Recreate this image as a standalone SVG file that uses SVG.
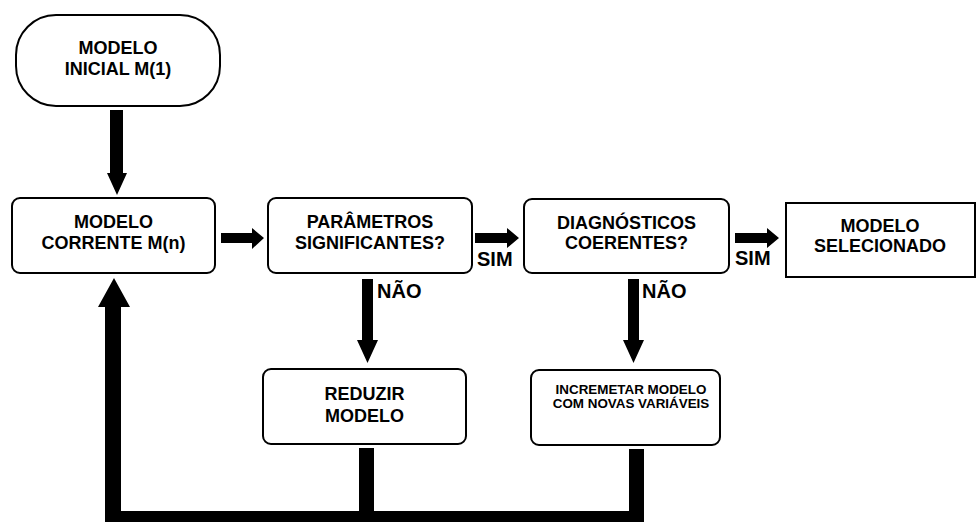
<svg xmlns="http://www.w3.org/2000/svg" width="977" height="522" viewBox="0 0 977 522">
<style>
.box{fill:#fff;stroke:#000;stroke-width:2}
.t{font-family:"Liberation Sans",Arial,sans-serif;font-weight:bold;font-size:18px;text-anchor:middle;fill:#000}
.s{font-size:13.4px}
.lbl{font-family:"Liberation Sans",Arial,sans-serif;font-weight:bold;font-size:20px;fill:#000}
.a{fill:#000}
</style>
<rect width="977" height="522" fill="#fff"/>
<g id="connectors">
<polygon class="a" points="110,110 123,110 123,173 127,173 117,195 107,173 110,173"/>
<polygon class="a" points="221,233 252,233 252,228 264,238 252,249 252,243 221,243"/>
<polygon class="a" points="475,233 507,233 507,228 519,238 507,248 507,243 475,243"/>
<polygon class="a" points="735,233 767,233 767,228 779,238 767,248 767,243 735,243"/>
<polygon class="a" points="362,279 373,279 373,340 378,340 367.5,363 357,340 362,340"/>
<polygon class="a" points="628,279 639,279 639,340 644,340 633.5,363 623,340 628,340"/>
<polygon class="a" points="359,448 374,448 374,511 629,511 629,449 644,449 644,522 105,522 105,307 98,307 114,278 130,307 121,307 121,511 359,511"/>
<text class="lbl" x="477" y="266">SIM</text>
<text class="lbl" x="735" y="265">SIM</text>
<text class="lbl" x="377" y="298">NÃO</text>
<text class="lbl" x="642" y="298">NÃO</text>
</g>
<g id="inicial">
<rect class="box" x="16" y="15" width="204" height="91" rx="40"/>
<text class="t" x="118" y="54">MODELO</text>
<text class="t" x="118" y="75">INICIAL M(1)</text>
</g>
<g id="corrente">
<rect class="box" x="12" y="198" width="203" height="75" rx="8"/>
<text class="t" x="113.5" y="228">MODELO</text>
<text class="t" x="113.5" y="249">CORRENTE M(n)</text>
</g>
<g id="parametros">
<rect class="box" x="268" y="198" width="204" height="75" rx="8"/>
<text class="t" x="370" y="228">PARÂMETROS</text>
<text class="t" x="370" y="249">SIGNIFICANTES?</text>
</g>
<g id="diagnosticos">
<rect class="box" x="524" y="199" width="205" height="74" rx="8"/>
<text class="t" x="626.5" y="229">DIAGNÓSTICOS</text>
<text class="t" x="626.5" y="249">COERENTES?</text>
</g>
<g id="selecionado">
<rect class="box" x="786" y="203" width="189" height="74"/>
<text class="t" x="880" y="232">MODELO</text>
<text class="t" x="880" y="252">SELECIONADO</text>
</g>
<g id="reduzir">
<rect class="box" x="263" y="369" width="203" height="75" rx="8"/>
<text class="t" x="364.5" y="400">REDUZIR</text>
<text class="t" x="364.5" y="422">MODELO</text>
</g>
<g id="incrementar">
<rect class="box" x="531" y="370" width="189" height="75" rx="8"/>
<text class="t s" x="631" y="394">INCREMETAR MODELO</text>
<text class="t s" x="631" y="408">COM NOVAS VARIÁVEIS</text>
</g>
</svg>
